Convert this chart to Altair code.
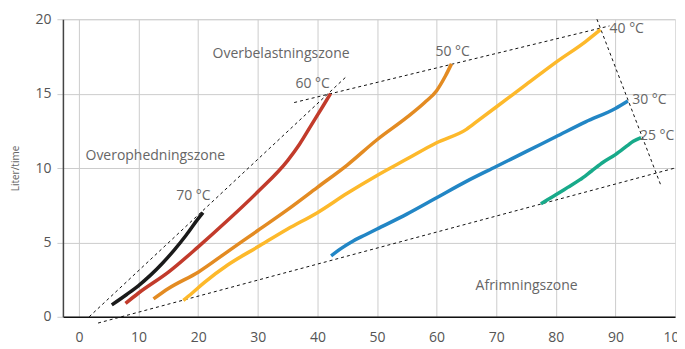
import altair as alt
import pandas as pd

# ---- curve data (x axis value, y = Liter/time) ----
c70_x = [5.5, 8, 10, 12, 14, 16, 18, 20, 20.8]
c70_y = [0.8, 1.5, 2.1, 2.8, 3.6, 4.5, 5.5, 6.6, 7.0]

c60_x = [7.8, 10, 15, 20, 25, 30, 35, 37, 39, 41, 42.2]
c60_y = [0.9, 1.6, 3.0, 4.7, 6.5, 8.4, 10.5, 11.6, 12.9, 14.2, 15.0]

c50_x = [12.5, 15, 20, 25, 30, 35, 40, 45, 50, 55, 58, 60, 61.5, 62.5]
c50_y = [1.2, 1.9, 3.0, 4.4, 5.8, 7.2, 8.7, 10.2, 11.9, 13.4, 14.4, 15.2, 16.2, 17.0]

c40_x = [17.5, 19, 21, 25, 30, 35, 40, 45, 50, 55, 60, 65, 67, 70, 75, 80, 85, 87.5]
c40_y = [1.1, 1.6, 2.3, 3.5, 4.7, 5.9, 7.0, 8.3, 9.5, 10.6, 11.7, 12.6, 13.2, 14.1, 15.6, 17.1, 18.5, 19.3]

c30_x = [42.3, 44, 46, 48, 50, 55, 60, 65, 70, 75, 80, 85, 90, 92.1]
c30_y = [4.1, 4.6, 5.1, 5.5, 5.9, 6.9, 8.0, 9.1, 10.1, 11.1, 12.1, 13.1, 14.0, 14.5]

c25_x = [77.5, 80, 82, 84, 86, 88, 90, 92, 93, 94.3]
c25_y = [7.6, 8.2, 8.7, 9.2, 9.8, 10.4, 10.9, 11.5, 11.8, 12.05]

series_names = ["70", "60", "50", "40", "30", "25"]
series_colors = ["#1a1a1a", "#c23b2b", "#e38b22", "#fdb92b", "#2286c5", "#18aa8a"]
series_xs = [c70_x, c60_x, c50_x, c40_x, c30_x, c25_x]
series_ys = [c70_y, c60_y, c50_y, c40_y, c30_y, c25_y]

# ---- dashed zone boundaries ----
dash_names = ["overheat", "defrost", "overload", "right"]
dash_x = [[1.7, 45.0], [3.2, 100.0], [36.1, 89.0], [86.9, 97.7]]
dash_y = [[0.0, 16.2], [-0.42, 10.0], [14.4, 19.55], [20.0, 8.76]]

# ---- text annotations ----
label_text = ["Overbelastningszone", "Overophedningszone", "Afrimningszone",
              "70 °C", "60 °C", "50 °C", "40 °C", "30 °C", "25 °C"]
label_x = [33.9, 12.8, 75.1, 19.2, 39.2, 62.7, 91.9, 95.7, 97.0]
label_y = [17.67, 10.78, 2.08, 8.09, 15.67, 17.78, 19.37, 14.6, 12.17]

x_ticks = [0, 10, 20, 30, 40, 50, 60, 70, 80, 90, 100]
y_ticks = [0, 5, 10, 15, 20]

rows = []
for n, xs, ys in zip(series_names, series_xs, series_ys):
    for i, (a, b) in enumerate(zip(xs, ys)):
        rows.append({"series": n, "x": a, "y": b, "order": i})
curves = pd.DataFrame(rows)

drows = []
for n, xs, ys in zip(dash_names, dash_x, dash_y):
    for i, (a, b) in enumerate(zip(xs, ys)):
        drows.append({"line": n, "x": a, "y": b, "order": i})
dashes = pd.DataFrame(drows)

labels = pd.DataFrame({"text": label_text, "x": label_x, "y": label_y})

FONT = "Open Sans"

xscale = alt.Scale(domain=[-2.7, 100], nice=False, zero=False)
yscale = alt.Scale(domain=[0, 20], nice=False)

xaxis = alt.Axis(values=x_ticks, title=None, ticks=False, labelPadding=14,
                 labelFontSize=14, labelColor="#555555", labelFont=FONT,
                 labelFlush=False, labelBound=False,
                 domainColor="#111111", domainWidth=1.5,
                 gridColor={"condition": {"test": "datum.value >= 100", "value": "transparent"},
                            "value": "#cccccc"},
                 gridWidth=1, labelOverlap=False)
yaxis = alt.Axis(values=y_ticks, title="Liter/time", titleFontSize=10,
                 titleFontWeight="normal", titleColor="#666666", titleFont=FONT,
                 titlePadding=14, labelFontSize=14, labelColor="#555555",
                 labelFont=FONT, labelPadding=6, tickSize=6, tickColor="#cccccc",
                 labelFlush=False,
                 domainColor="#444444", domainWidth=1.5, gridColor="#cccccc",
                 gridWidth=1)

base_curves = alt.Chart(curves).mark_line(strokeWidth=3.5, interpolate="monotone").encode(
    x=alt.X("x:Q", scale=xscale, axis=xaxis),
    y=alt.Y("y:Q", scale=yscale, axis=yaxis),
    color=alt.Color("series:N", scale=alt.Scale(domain=series_names, range=series_colors),
                    legend=None),
    order="order:Q",
)

dash_layer = alt.Chart(dashes).mark_line(color="#111111", strokeWidth=1,
                                          strokeDash=[3, 3]).encode(
    x=alt.X("x:Q", scale=xscale),
    y=alt.Y("y:Q", scale=yscale),
    detail="line:N",
    order="order:Q",
)

text_layer = alt.Chart(labels).mark_text(fontSize=14, color="#666666", font=FONT,
                                          align="center", baseline="middle").encode(
    x=alt.X("x:Q", scale=xscale),
    y=alt.Y("y:Q", scale=yscale),
    text="text:N",
)

chart = alt.layer(dash_layer, base_curves, text_layer).properties(
    width=613, height=298,
    autosize=alt.AutoSizeParams(type="none"),
    padding={"left": 55, "top": 11, "right": 2, "bottom": 32},
).configure_view(stroke=None).configure(background="white")

chart.save("out.html", embed_options={"renderer": "svg", "actions": False})
